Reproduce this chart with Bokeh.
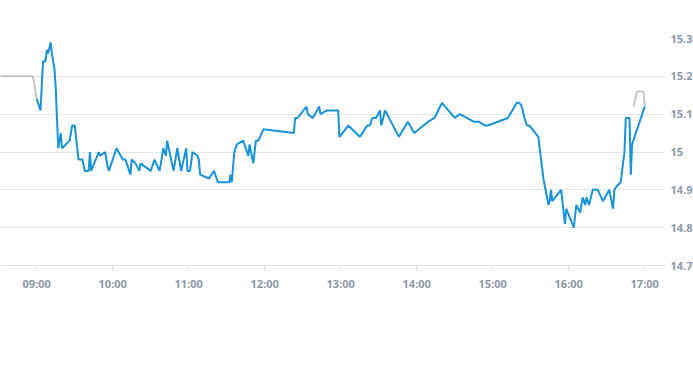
import pandas as pd
from bokeh.plotting import figure
from bokeh.models import (ColumnDataSource, LinearAxis, FixedTicker, DatetimeTickFormatter,
                          CustomJSTickFormatter, Range1d, Grid)
from bokeh.embed import file_html
from bokeh.resources import INLINE

DAY = "2024-01-02 "

# Regular session prices (blue line)
session_times = ["09:00", "09:03", "09:05", "09:07", "09:08", "09:09", "09:11", "09:12", "09:14", "09:15",
                 "09:17", "09:19", "09:20", "09:26", "09:28", "09:30", "09:33", "09:36", "09:38", "09:41",
                 "09:42", "09:43", "09:49", "09:50", "09:54", "09:56", "09:57", "10:03", "10:08", "10:10",
                 "10:14", "10:15", "10:18", "10:21", "10:22", "10:30", "10:33", "10:37", "10:38", "10:40",
                 "10:42", "10:43", "10:48", "10:51", "10:54", "10:58", "10:59", "11:01", "11:03", "11:07",
                 "11:08", "11:09", "11:16", "11:20", "11:23", "11:32", "11:33", "11:34", "11:36", "11:38",
                 "11:43", "11:47", "11:48", "11:51", "11:53", "11:55", "11:59", "12:23", "12:24", "12:26",
                 "12:33", "12:34", "12:38", "12:43", "12:44", "12:49", "12:58", "12:59", "13:06", "13:12",
                 "13:15", "13:21", "13:23", "13:25", "13:28", "13:31", "13:32", "13:35", "13:46", "13:53",
                 "13:58", "14:09", "14:14", "14:20", "14:30", "14:34", "14:45", "14:49", "14:54", "14:56",
                 "15:12", "15:19", "15:21", "15:23", "15:25", "15:27", "15:29", "15:36", "15:40", "15:44",
                 "15:45", "15:46", "15:47", "15:54", "15:57", "15:58", "16:04", "16:06", "16:09", "16:11",
                 "16:13", "16:14", "16:16", "16:19", "16:23", "16:27", "16:32", "16:35", "16:36", "16:38",
                 "16:41", "16:44", "16:45", "16:48", "16:49", "16:50", "17:00"]
session_prices = [15.14, 15.11, 15.24, 15.24, 15.27, 15.26, 15.29, 15.26, 15.22, 15.17,
                  15.01, 15.05, 15.01, 15.03, 15.07, 15.07, 14.98, 14.98, 14.95, 14.95,
                  15.00, 14.95, 15.00, 14.99, 15.00, 14.96, 14.95, 15.01, 14.98, 14.98,
                  14.94, 14.98, 14.97, 14.95, 14.97, 14.95, 14.98, 14.95, 14.97, 15.01,
                  14.99, 15.03, 14.95, 15.01, 14.95, 15.01, 14.95, 14.95, 15.00, 14.99,
                  14.98, 14.94, 14.93, 14.95, 14.92, 14.92, 14.94, 14.92, 15.00, 15.02,
                  15.03, 14.99, 15.02, 14.97, 15.03, 15.03, 15.06, 15.05, 15.09, 15.09,
                  15.12, 15.10, 15.09, 15.12, 15.10, 15.11, 15.11, 15.04, 15.07, 15.05,
                  15.04, 15.07, 15.07, 15.09, 15.09, 15.11, 15.07, 15.11, 15.04, 15.08,
                  15.05, 15.08, 15.09, 15.13, 15.09, 15.10, 15.08, 15.08, 15.07, 15.07,
                  15.09, 15.13, 15.13, 15.12, 15.09, 15.07, 15.07, 15.04, 14.93, 14.86,
                  14.87, 14.90, 14.87, 14.90, 14.81, 14.85, 14.80, 14.86, 14.84, 14.88,
                  14.86, 14.88, 14.86, 14.90, 14.90, 14.87, 14.90, 14.85, 14.90, 14.91,
                  14.92, 15.00, 15.09, 15.09, 14.94, 15.02, 15.12]

# Pre-market (grey)
pre_times = ["08:30", "08:57", "09:00"]
pre_prices = [15.20, 15.20, 15.14]

# After-hours (grey)
post_times = ["16:51", "16:54", "16:59", "17:00"]
post_prices = [15.12, 15.16, 15.16, 15.12]

x_ticks = ["09:00", "10:00", "11:00", "12:00", "13:00", "14:00", "15:00", "16:00", "17:00"]
y_ticks = [14.7, 14.8, 14.9, 15.0, 15.1, 15.2, 15.3]


def ts(lst):
    return pd.to_datetime([DAY + t for t in lst])


sess = ColumnDataSource(dict(t=ts(session_times), p=session_prices))
pre = ColumnDataSource(dict(t=ts(pre_times), p=pre_prices))
post = ColumnDataSource(dict(t=ts(post_times), p=post_prices))

x_start = pd.Timestamp(DAY + "08:31:25")
x_end = pd.Timestamp(DAY + "17:15:36")

p = figure(frame_width=664, frame_height=227, x_axis_type="datetime",
           x_range=Range1d(x_start, x_end), y_range=Range1d(min(y_ticks), max(y_ticks)),
           output_backend="svg", toolbar_location=None,
           min_border_left=0, min_border_top=38, min_border_bottom=100, min_border_right=0,
           y_axis_location=None)
p.outline_line_color = None
p.background_fill_color = "white"
p.border_fill_color = "white"

label_color = "#8a99a8"
font = "Open Sans"

# x axis
xa = p.xaxis[0]
xa.ticker = FixedTicker(ticks=[ts([t])[0].value // 10**6 for t in x_ticks])
xa.formatter = DatetimeTickFormatter(hours="%H:%M", minutes="%H:%M", hourmin="%H:%M",
                                     days="%H:%M", minsec="%H:%M", seconds="%H:%M")
xa.axis_line_color = "#dcdfe3"
xa.major_tick_line_color = "#dcdfe3"
xa.major_tick_out = 5
xa.major_tick_in = 0
xa.minor_tick_line_color = None
xa.major_label_text_color = label_color
xa.major_label_text_font = font
xa.major_label_text_font_size = "11px"
xa.major_label_text_font_style = "bold"
xa.major_label_standoff = 5

# right y axis
ya = LinearAxis(ticker=FixedTicker(ticks=y_ticks),
                formatter=CustomJSTickFormatter(code="return String(Math.round(tick*10)/10);"))
ya.axis_line_color = None
ya.major_tick_line_color = None
ya.minor_tick_line_color = None
ya.major_tick_out = 0
ya.major_tick_in = 0
ya.major_label_text_color = label_color
ya.major_label_text_font = font
ya.major_label_text_font_size = "11px"
ya.major_label_text_font_style = "bold"
ya.major_label_standoff = 6
p.add_layout(ya, "right")

p.xgrid.grid_line_color = None
p.ygrid.grid_line_color = None
p.add_layout(Grid(dimension=1, ticker=ya.ticker, grid_line_color="#e3e5e8", grid_line_width=1))

p.line("t", "p", source=pre, line_color="#c3c7cc", line_width=2)
p.line("t", "p", source=post, line_color="#c3c7cc", line_width=2)
p.line("t", "p", source=sess, line_color="#1793dc", line_width=2)

open("out.html", "w").write(file_html(p, INLINE))
